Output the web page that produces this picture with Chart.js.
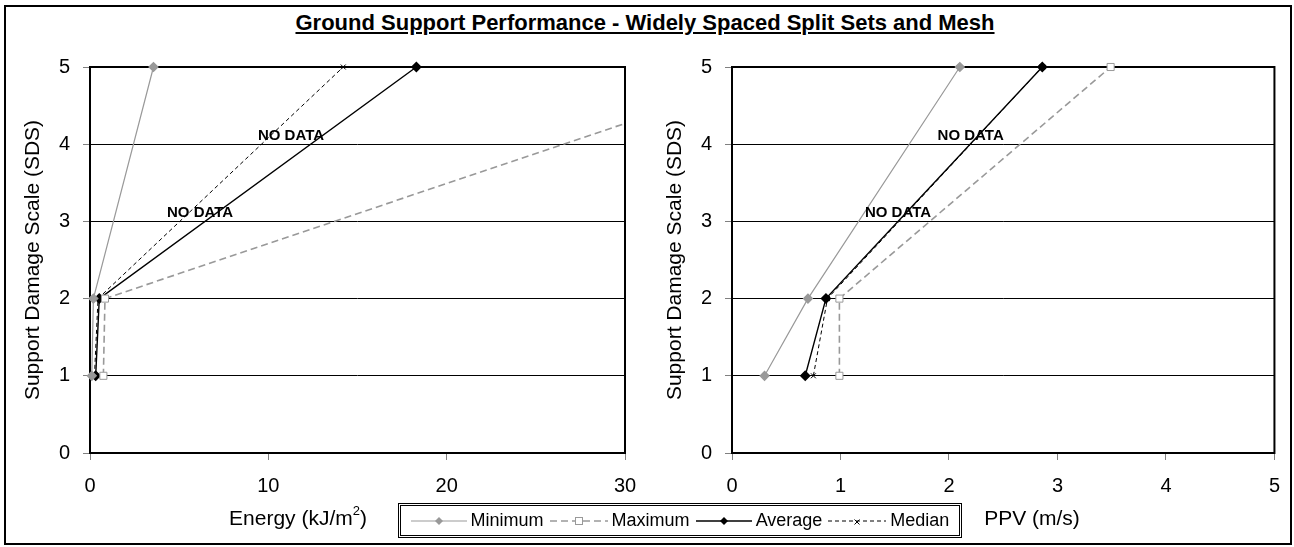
<!DOCTYPE html>
<html><head><meta charset="utf-8">
<script src="https://cdn.jsdelivr.net/npm/chart.js@4"></script>
<style>
html,body{margin:0;padding:0;background:#fff;}
#page{position:relative;width:1294px;height:547px;overflow:hidden;font-family:"Liberation Sans",Arial,sans-serif;color:#000;}
#frame{position:absolute;left:4px;top:5px;width:1284px;height:536px;border:2px solid #000;}
#title{position:absolute;left:0;width:1290px;top:10px;text-align:center;font-weight:bold;font-size:22px;text-decoration:underline;}
.wrap{position:absolute;top:40px;height:480px;}
.xt{position:absolute;top:506px;font-size:21px;white-space:nowrap;transform:translateX(-50%);}
.xt sup{font-size:13px;vertical-align:10px;line-height:0;}
#legend{position:absolute;left:398px;top:503px;width:564px;height:35px;box-sizing:border-box;border:3px double #000;display:flex;align-items:center;justify-content:center;font-size:18px;white-space:nowrap;}
#legend .it{display:flex;align-items:center;margin:0 3px;}
#legend svg{margin-right:4px;}
</style>
</head><body>
<div id="page">
  <div id="frame"></div>
  <div id="title">Ground Support Performance - Widely Spaced Split Sets and Mesh</div>
  <div class="wrap" style="left:0;width:660px;"><canvas id="c1" width="660" height="480"></canvas></div>
  <div class="wrap" style="left:640px;width:654px;"><canvas id="c2" width="654" height="480"></canvas></div>
  <div class="xt" style="left:298px;">Energy (kJ/m<sup>2</sup>)</div>
  <div class="xt" style="left:1032px;">PPV (m/s)</div>
  <div id="legend"></div>
</div>
<script>
// ---- data ----
const sdsLevels = [1, 2, 5];
const energyMin = [0.10, 0.19, 3.56];
const energyMax = [0.75, 0.84, 39.4];
const energyAvg = [0.32, 0.52, 18.3];
const energyMed = [0.25, 0.45, 14.2];
const ppvMin = [0.30, 0.70, 2.10];
const ppvMax = [0.99, 0.99, 3.49];
const ppvAvg = [0.675, 0.866, 2.86];
const ppvMed = [0.75, 0.88, 2.86];
const seriesNames = ['Minimum', 'Maximum', 'Average', 'Median'];
const yTicks = [0, 1, 2, 3, 4, 5];
const energyTicks = [0, 10, 20, 30];
const ppvTicks = [0, 1, 2, 3, 4, 5];
const noDataText = 'NO DATA';
const noDataEnergy = [[6.17, 3], [11.27, 4]];
const noDataPpv = [[1.53, 3], [2.20, 4]];

const FONT = '"Liberation Sans", Arial, sans-serif';
const styles = [
  {borderColor:'#999999', borderWidth:1.2, pointStyle:'rectRot', pointRadius:4.5, pointBackgroundColor:'#999999', pointBorderColor:'#999999'},
  {borderColor:'#999999', borderWidth:1.6, borderDash:[7,4], pointStyle:'rect', pointRadius:5, pointBackgroundColor:'#ffffff', pointBorderColor:'#999999', pointBorderWidth:1},
  {borderColor:'#000000', borderWidth:1.4, pointStyle:'rectRot', pointRadius:4.5, pointBackgroundColor:'#000000', pointBorderColor:'#000000'},
  {borderColor:'#000000', borderWidth:1, borderDash:[4,3], pointStyle:'crossRot', pointRadius:3.5, pointBackgroundColor:'#000000', pointBorderColor:'#000000', pointBorderWidth:1}
];

function pts(vals){ return vals.map((v,i)=>({x:v, y:sdsLevels[i]})); }

const framePlugin = {
  id:'frame',
  beforeDatasetsDraw(chart){
    const a = chart.chartArea, ctx = chart.ctx;
    ctx.save();
    ctx.strokeStyle = '#000'; ctx.lineWidth = 2;
    ctx.strokeRect(a.left, a.top, a.right-a.left, a.bottom-a.top);
    ctx.restore();
  },
  afterDatasetsDraw(chart, args, opts){
    const ctx = chart.ctx, xs = chart.scales.x, ys = chart.scales.y;
    ctx.save();
    ctx.font = 'bold 15px ' + FONT;
    ctx.fillStyle = '#000'; ctx.textAlign = 'center'; ctx.textBaseline = 'bottom';
    (opts.labels||[]).forEach(p=>{
      ctx.fillText(noDataText, xs.getPixelForValue(p[0]), ys.getPixelForValue(p[1]) - 1);
    });
    ctx.restore();
  }
};

function makeChart(id, series, xTicks, labels, yw, padRight, titlePad){
  const xMax = xTicks[xTicks.length-1];
  return new Chart(document.getElementById(id), {
    type:'line',
    data:{ datasets: series.map((s,i)=>Object.assign({label:seriesNames[i], data:pts(s), fill:false, tension:0,
      clip:{left:10, top:10, right:0, bottom:10}}, styles[i])) },
    options:{
      responsive:false, animation:false, events:[],
      layout:{padding:{left:0, top:27, right:padRight, bottom:0}},
      plugins:{legend:{display:false}, tooltip:{enabled:false}, frame:{labels:labels}},
      scales:{
        x:{type:'linear', min:0, max:xMax,
          afterBuildTicks:(s)=>{ s.ticks = xTicks.map(v=>({value:v})); },
          afterFit:(s)=>{ s.height = 67; },
          grid:{drawOnChartArea:false, tickLength:7, tickColor:'#808080', color:'#808080'},
          border:{display:false},
          ticks:{font:{family:FONT, size:20}, color:'#000', padding:14, maxRotation:0}},
        y:{type:'linear', min:0, max:5,
          afterBuildTicks:(s)=>{ s.ticks = yTicks.map(v=>({value:v})); },
          afterFit:(s)=>{ s.width = yw; },
          grid:{color:'#000', lineWidth:1, tickLength:7, tickColor:'#808080'},
          border:{display:false},
          ticks:{font:{family:FONT, size:20}, color:'#000', padding:13},
          title:{display:true, text:'Support Damage Scale (SDS)', font:{family:FONT, size:21}, color:'#000', padding:{top:titlePad, bottom:0}}}
      }
    },
    plugins:[framePlugin]
  });
}

makeChart('c1', [energyMin, energyMax, energyAvg, energyMed], energyTicks, noDataEnergy, 90, 35, 21);
makeChart('c2', [ppvMin, ppvMax, ppvAvg, ppvMed], ppvTicks, noDataPpv, 92, 19, 23);

// legend
const legendSvgs = [
  '<svg width="56" height="12"><line x1="0" y1="6" x2="56" y2="6" stroke="#999" stroke-width="1.2"/><polygon points="28,2 32,6 28,10 24,6" fill="#999"/></svg>',
  '<svg width="58" height="12"><line x1="0" y1="6" x2="58" y2="6" stroke="#999" stroke-width="1.4" stroke-dasharray="7,4"/><rect x="25.5" y="2.5" width="7" height="7" fill="#fff" stroke="#999" stroke-width="1"/></svg>',
  '<svg width="56" height="12"><line x1="0" y1="6" x2="56" y2="6" stroke="#000" stroke-width="1.4"/><polygon points="28,2 32,6 28,10 24,6" fill="#000"/></svg>',
  '<svg width="58" height="12"><line x1="0" y1="6" x2="58" y2="6" stroke="#000" stroke-width="1" stroke-dasharray="4,3"/><path d="M26.5 4.5 L31.5 9.5 M31.5 4.5 L26.5 9.5" stroke="#000" stroke-width="1"/></svg>'
];
document.getElementById('legend').innerHTML = seriesNames.map((n,i)=>'<span class="it">'+legendSvgs[i]+'<span>'+n+'</span></span>').join('');
</script>
</body></html>
